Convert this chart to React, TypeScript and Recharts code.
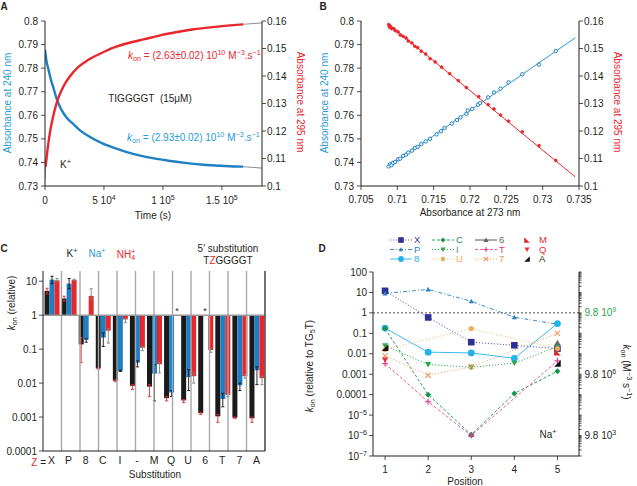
import React from 'react';
import {
  ComposedChart, LineChart, BarChart, Line, Bar, XAxis, YAxis,
  ReferenceLine, Legend,
} from 'recharts';

const FONT = '"Liberation Sans", Arimo, Arial, Helvetica, sans-serif';
const INK = '#231f20';
const BLUE = '#1d80c3';
const BLUE_TXT = '#2a9ad6';
const RED = '#e8262c';
const FIT = '#8c8c8c';
const GREEN_TXT = '#2aa64a';

// ---------------- Panel A ----------------
const A_BLUE_T = [0, 1400, 2800, 4800, 7100, 9900, 14200, 18400, 24100, 29700, 38200, 48200, 58100, 69400, 80700, 93500, 106200, 120400, 134600, 148700, 160000, 168000];
const A_BLUE_V = [0.7878, 0.7826, 0.7798, 0.7755, 0.7717, 0.767, 0.7621, 0.759, 0.7562, 0.7536, 0.7508, 0.7482, 0.7463, 0.7444, 0.7429, 0.7416, 0.7406, 0.7397, 0.739, 0.7386, 0.7383, 0.7382];
const A_RED_T = [500, 1400, 2800, 4250, 6200, 8500, 11300, 15600, 21200, 28300, 36800, 46700, 58100, 70800, 83600, 97700, 111900, 126100, 140200, 154400, 168000];
const A_RED_V = [0.107, 0.1105, 0.1154, 0.1196, 0.1239, 0.1281, 0.132, 0.1362, 0.1399, 0.1433, 0.1459, 0.1481, 0.1503, 0.152, 0.1533, 0.1548, 0.156, 0.157, 0.1577, 0.1583, 0.1588];
const A_BLUE_FIT_T = [168000, 184000];
const A_BLUE_FIT_V = [0.7382, 0.7376];
const A_RED_FIT1_T = [0, 500];
const A_RED_FIT1_V = [0.1025, 0.107];
const A_RED_FIT2_T = [168000, 184000];
const A_RED_FIT2_V = [0.1588, 0.1593];
const A_X_TICKS = [0, 50000, 100000, 150000];
const A_X_LABELS: any[] = ['0', { m: '5 10', e: '4' }, { m: '1 10', e: '5' }, { m: '1.5 10', e: '5' }];
const A_L_TICKS = [0.73, 0.74, 0.75, 0.76, 0.77, 0.78, 0.79, 0.8];
const A_L_LABELS = ['0.73', '0.74', '0.75', '0.76', '0.77', '0.78', '0.79', '0.8'];
const A_R_TICKS = [0.1, 0.11, 0.12, 0.13, 0.14, 0.15, 0.16];
const A_R_LABELS = ['0.1', '0.11', '0.12', '0.13', '0.14', '0.15', '0.16'];

// ---------------- Panel B ----------------
const B_BLUE_X = [0.7088, 0.709, 0.7092, 0.7094, 0.7097, 0.7101, 0.7104, 0.7108, 0.7112, 0.7115, 0.712, 0.7124, 0.7128, 0.7133, 0.7139, 0.7145, 0.7154, 0.716, 0.7165, 0.7175, 0.7182, 0.7187, 0.7195, 0.7197, 0.7203, 0.7211, 0.7214, 0.7225, 0.7233, 0.7242, 0.7253, 0.7272, 0.7295, 0.7318];
const B_BLUE_Y = [0.7383, 0.7392, 0.7388, 0.7398, 0.7402, 0.7413, 0.7416, 0.7428, 0.7433, 0.7442, 0.745, 0.7461, 0.7466, 0.7478, 0.7489, 0.75, 0.7519, 0.7532, 0.7546, 0.7565, 0.758, 0.7591, 0.7606, 0.762, 0.7627, 0.7645, 0.7652, 0.7676, 0.7697, 0.7713, 0.774, 0.7774, 0.7815, 0.7873];
const B_RED_X = [0.7088, 0.7089, 0.709, 0.7092, 0.7095, 0.7097, 0.7101, 0.7104, 0.7108, 0.7112, 0.7115, 0.712, 0.7124, 0.7128, 0.7133, 0.7139, 0.7145, 0.7152, 0.7161, 0.7172, 0.7184, 0.7195, 0.7212, 0.7225, 0.7233, 0.7242, 0.7253, 0.7272, 0.7295, 0.7318];
const B_RED_Y = [0.1587, 0.1578, 0.1582, 0.1572, 0.1573, 0.1565, 0.156, 0.1549, 0.1544, 0.1538, 0.1527, 0.152, 0.1508, 0.1503, 0.149, 0.148, 0.1463, 0.1451, 0.1432, 0.1409, 0.1383, 0.1358, 0.1325, 0.1296, 0.128, 0.1258, 0.1236, 0.1197, 0.1147, 0.1093];
const B_BLUE_FIT_X = [0.709, 0.7345];
const B_BLUE_FIT_Y = [0.7386, 0.7929];
const B_RED_FIT_X = [0.709, 0.7345];
const B_RED_FIT_Y = [0.1585, 0.1033];
const B_X_TICKS = [0.705, 0.71, 0.715, 0.72, 0.725, 0.73, 0.735];
const B_X_LABELS = ['0.705', '0.71', '0.715', '0.72', '0.725', '0.73', '0.735'];

// ---------------- Panel C ----------------
const C_CATS = ['X', 'P', '8', 'C', 'I', '-', 'M', 'Q', 'U', '6', 'T', '7', 'A'];
const C_K = [5.2, 3.1, 0.138, 0.027, 0.0118, 0.0083, 0.0079, 0.0036, 0.0031, 0.0013, 0.00105, 0.00096, 0.00092];
const C_NA: (number | null)[] = [11.1, 8.5, 0.19, 0.22, 0.023, 0.04, 0.019, 0.0053, 0.015, null, 0.0034, 0.0086, 0.024];
const C_NH: (number | null)[] = [10.6, 11, 3.7, 0.35, 0.75, 0.11, 0.036, null, 0.016, 0.094, 0.0045, 0.016, 0.014];
const C_K_LO = [4.2, 2.6, 0.04, 0.026, 0.011, 0.0065, 0.004, 0.003, 0.0027, 0.0012, 0.0007, 0.0009, 0.0007];
const C_K_HI = [6.2, 3.6, 0.22, 0.028, 0.0125, 0.009, 0.009, 0.004, 0.0033, 0.0014, 0.0012, 0.001, 0.001];
const C_NA_LO: (number | null)[] = [8.5, 6, 0.16, 0.12, 0.022, 0.03, 0.003, 0.004, 0.006, null, 0.002, 0.006, 0.009];
const C_NA_HI: (number | null)[] = [14, 12, 0.2, 0.3, 0.024, 0.045, 0.035, 0.006, 0.025, null, 0.005, 0.01, 0.03];
const C_NH_LO: (number | null)[] = [9.5, 10.5, 3, 0.15, 0.6, 0.09, 0.02, null, 0.01, 0.08, 0.004, 0.014, 0.009];
const C_NH_HI: (number | null)[] = [12, 11.5, 6, 0.4, 0.8, 0.12, 0.04, null, 0.02, 0.1, 0.005, 0.018, 0.016];
const C_Y_TICKS = [0.0001, 0.001, 0.01, 0.1, 1, 10];
const C_Y_LABELS = ['0.0001', '0.001', '0.01', '0.1', '1', '10'];

// ---------------- Panel D ----------------
const D_POS = [1, 2, 3, 4, 5];
const D_X = [12, 0.6, 0.037, 0.026, 0.018];
const D_P = [9, 14, 3.7, 0.61, 0.28];
const D_8 = [0.18, 0.012, 0.011, 0.006, 0.3];
const D_C = [0.17, 0.0001, 0.0000011, 0.000115, 0.0014];
const D_I = [0.025, 0.003, 0.0022, 0.0035, 0.022];
const D_U = [0.016, null, 0.17, null, 0.018];
const D_6 = [null, null, 0.0000011, null, 0.035];
const D_T = [0.0033, 0.000045, 0.000001, null, 0.0045];
const D_7 = [0.008, 0.0009, 0.0023, null, 0.1];
const D_M = [null, null, null, null, 0.012];
const D_Q = [0.005, null, null, null, null];
const D_A = [0.02, null, null, null, 0.0034];
const D_Y_TICKS = [0.0000001, 0.000001, 0.00001, 0.0001, 0.001, 0.01, 0.1, 1, 10, 100];
const D_Y_LABELS: any[] = [{ m: '10', e: '−7' }, { m: '10', e: '−6' }, { m: '10', e: '−5' }, '0.0001', '0.001', '0.01', '0.1', '1', '10', '100'];
const D_R_TICKS = [0.000001, 0.001, 1];
const D_R_LABELS: any[] = [{ m: '9.8 10', e: '3' }, { m: '9.8 10', e: '6' }, { m: '9.8 10', e: '9' }];
const D_R_COLORS = [INK, INK, GREEN_TXT];

const D_SERIES = [
  { key: 'sX', name: 'X', vals: D_X, color: '#2e3192', stroke: '#6060b8', dash: '1.2 1.8', shape: 'square', s: 3.3, connect: false, line: true, col: 0, row: 0 },
  { key: 'sP', name: 'P', vals: D_P, color: '#2f7fc4', stroke: '#3d8bcb', dash: '4 2 1 2', shape: 'tri', s: 2.6, connect: false, line: true, col: 0, row: 1 },
  { key: 's8', name: '8', vals: D_8, color: '#22b3ea', stroke: '#3abbeb', dash: undefined, shape: 'circle', s: 3.4, connect: false, line: true, col: 0, row: 2 },
  { key: 'sC', name: 'C', vals: D_C, color: '#17954c', stroke: '#2aa05a', dash: '3 2', shape: 'diamond', s: 3, connect: false, line: true, col: 1, row: 0 },
  { key: 'sI', name: 'I', vals: D_I, color: '#2aa84a', stroke: '#38b055', dash: '1.2 1.8', shape: 'tridown', s: 3, connect: false, line: true, col: 1, row: 1 },
  { key: 'sU', name: 'U', vals: D_U, color: '#f3a955', stroke: '#f6c08a', dash: '1.2 1.8', shape: 'circle', s: 2.6, connect: true, line: true, col: 1, row: 2 },
  { key: 's6', name: '6', vals: D_6, color: '#5a6a62', stroke: '#555', dash: undefined, shape: 'tri', s: 3, connect: false, line: true, col: 2, row: 0 },
  { key: 'sT', name: 'T', vals: D_T, color: '#e8398d', stroke: '#ee5aa0', dash: '3 2', shape: 'plus', s: 3, connect: true, line: true, col: 2, row: 1 },
  { key: 's7', name: '7', vals: D_7, color: '#ef9a5a', stroke: '#f2ad7a', dash: '1.2 1.8', shape: 'cross', s: 2.6, connect: true, line: true, col: 2, row: 2 },
  { key: 'sM', name: 'M', vals: D_M, color: '#d62a2a', stroke: 'none', dash: undefined, shape: 'triM', s: 3.3, connect: false, line: false, col: 3, row: 0 },
  { key: 'sQ', name: 'Q', vals: D_Q, color: '#e8303a', stroke: 'none', dash: undefined, shape: 'tridown', s: 3, connect: false, line: false, col: 3, row: 1 },
  { key: 'sA', name: 'A', vals: D_A, color: '#111', stroke: 'none', dash: undefined, shape: 'triA', s: 3.3, connect: false, line: false, col: 3, row: 2 },
];

// ---------------- minor tick positions (axis decoration) ----------------
const steps = (a: number, b: number, st: number) => {
  const out: number[] = [];
  const n = Math.round((b - a) / st);
  for (let i = 0; i <= n; i++) out.push(+(a + i * st).toFixed(6));
  return out;
};
const logMinors = (decades: number[]) => decades.flatMap((d) => [2, 3, 4, 5, 6, 7, 8, 9].map((m) => +(m * d).toPrecision(3)));
const A_L_MINOR = steps(0.73, 0.8, 0.002);
const A_R_MINOR = steps(0.1, 0.16, 0.002);
const A_X_MINOR = steps(0, 180000, 10000);
const B_X_MINOR = steps(0.705, 0.735, 0.001);
const C_MINOR = [...C_Y_TICKS, ...logMinors([0.0001, 0.001, 0.01, 0.1, 1]).concat([20])];
const D_MINOR = logMinors([0.0000001, 0.000001, 0.00001, 0.0001, 0.001, 0.01, 0.1, 1, 10]);
const D_R_ALL = [...D_Y_TICKS, ...D_MINOR];

// ---------------- builders ----------------
const pairs = (xs: number[], ys: number[], kx: string, ky: string) => xs.map((x, i) => ({ [kx]: x, [ky]: ys[i] }));
const rng = (lo: number | null, hi: number | null) => (lo == null || hi == null ? null : [lo, hi]);

const A_BLUE = pairs(A_BLUE_T, A_BLUE_V, 't', 'v');
const A_RED = pairs(A_RED_T, A_RED_V, 't', 'v');
const A_BLUE_FIT = pairs(A_BLUE_FIT_T, A_BLUE_FIT_V, 't', 'v');
const A_RED_FIT1 = pairs(A_RED_FIT1_T, A_RED_FIT1_V, 't', 'v');
const A_RED_FIT2 = pairs(A_RED_FIT2_T, A_RED_FIT2_V, 't', 'v');
const B_BLUE = pairs(B_BLUE_X, B_BLUE_Y, 'x', 'y');
const B_RED = pairs(B_RED_X, B_RED_Y, 'x', 'y');
const B_BLUE_FIT = pairs(B_BLUE_FIT_X, B_BLUE_FIT_Y, 'x', 'y');
const B_RED_FIT = pairs(B_RED_FIT_X, B_RED_FIT_Y, 'x', 'y');

const C_ROWS = C_CATS.map((z, i) => ({
  z,
  k: [1, C_K[i]],
  kE: rng(C_K_LO[i], C_K_HI[i]),
  na: C_NA[i] == null ? null : [1, C_NA[i]],
  naE: rng(C_NA_LO[i], C_NA_HI[i]),
  nh: C_NH[i] == null ? null : [1, C_NH[i]],
  nhE: rng(C_NH_LO[i], C_NH_HI[i]),
}));

const D_ROWS = D_POS.map((p, i) => {
  const r: any = { p };
  D_SERIES.forEach((s) => { r[s.key] = s.vals[i]; });
  return r;
});

// ---------------- helpers ----------------
const AX = { stroke: INK, strokeWidth: 1 };
const TL = { stroke: INK, strokeWidth: 0.8 };

function makeTick(values: number[], labels: any[], o: { dx?: number; dy?: number; anchor?: string; colors?: string[]; size?: number }) {
  return function TickRenderer(props: any) {
    const { x, y, payload } = props;
    const val = payload ? payload.value : NaN;
    const i = values.findIndex((v) => Math.abs(v - val) <= Math.abs(v) * 1e-6 + 1e-13);
    if (i < 0) return <g />;
    const lab = labels[i];
    const fill = o.colors ? o.colors[i] : INK;
    return (
      <text x={x + (o.dx ?? 0)} y={y + (o.dy ?? 0)} textAnchor={(o.anchor ?? 'middle') as any} fontSize={o.size ?? 10} fill={fill} fontFamily={FONT}>
        {typeof lab === 'string' ? lab : (
          <>
            <tspan>{lab.m}</tspan>
            <tspan dy={-4} fontSize={7}>{lab.e}</tspan>
          </>
        )}
      </text>
    );
  };
}

function makeCatTick() {
  return function CatTick(props: any) {
    const { x, y, payload } = props;
    return (
      <text x={x} y={y + 11} textAnchor="middle" fontSize={10.5} fill={INK} fontFamily={FONT}>{payload ? payload.value : ''}</text>
    );
  };
}

function errShape(color: string) {
  return function ErrShape(props: any) {
    const { x, y, width, height } = props;
    if (![x, y, width, height].every((n) => Number.isFinite(n)) || height === 0) return <g />;
    const cx = x + width / 2;
    const y1 = y;
    const y2 = y + height;
    return (
      <g stroke={color} strokeWidth={0.9}>
        <line x1={cx} y1={y1} x2={cx} y2={y2} />
        <line x1={cx - 1.6} y1={y1} x2={cx + 1.6} y2={y1} />
        <line x1={cx - 1.6} y1={y2} x2={cx + 1.6} y2={y2} />
      </g>
    );
  };
}

function Marker({ cx, cy, shape, color, s }: any) {
  if (cx == null || cy == null || isNaN(cx) || isNaN(cy)) return <g />;
  switch (shape) {
    case 'square':
      return <rect x={cx - s} y={cy - s} width={2 * s} height={2 * s} fill={color} />;
    case 'tri':
      return <polygon points={`${cx},${cy - s} ${cx - s},${cy + s * 0.8} ${cx + s},${cy + s * 0.8}`} fill={color} />;
    case 'tridown':
      return <polygon points={`${cx},${cy + s} ${cx - s},${cy - s * 0.8} ${cx + s},${cy - s * 0.8}`} fill={color} />;
    case 'circle':
      return <circle cx={cx} cy={cy} r={s} fill={color} />;
    case 'diamond':
      return <polygon points={`${cx},${cy - s} ${cx + s},${cy} ${cx},${cy + s} ${cx - s},${cy}`} fill={color} />;
    case 'plus':
      return (
        <g stroke={color} strokeWidth={1.1}>
          <line x1={cx - s} y1={cy} x2={cx + s} y2={cy} />
          <line x1={cx} y1={cy - s} x2={cx} y2={cy + s} />
        </g>
      );
    case 'cross':
      return (
        <g stroke={color} strokeWidth={1.1}>
          <line x1={cx - s} y1={cy - s} x2={cx + s} y2={cy + s} />
          <line x1={cx - s} y1={cy + s} x2={cx + s} y2={cy - s} />
        </g>
      );
    case 'triM':
      return <polygon points={`${cx - s},${cy - s} ${cx - s},${cy + s} ${cx + s},${cy + s}`} fill={color} />;
    case 'triA':
      return <polygon points={`${cx + s},${cy - s} ${cx + s},${cy + s} ${cx - s},${cy + s}`} fill={color} />;
    default:
      return <g />;
  }
}

const Sup = ({ children }: any) => <span style={{ fontSize: '0.72em', position: 'relative', top: '-0.5em' }}>{children}</span>;
const Sub = ({ children }: any) => <span style={{ fontSize: '0.72em', position: 'relative', top: '0.3em' }}>{children}</span>;
const Kon = () => (<><i>k</i><Sub>on</Sub></>);

function Note({ x, y, children, color = INK, size = 10, rot = 0, anchor = 'middle', bold = false }: any) {
  const tx = anchor === 'start' ? '0%' : anchor === 'end' ? '-100%' : '-50%';
  return (
    <div style={{
      position: 'absolute', left: x, top: y, transform: `translate(${tx}, -50%) rotate(${rot}deg)`,
      color, fontSize: size, fontWeight: bold ? 'bold' : 'normal', whiteSpace: 'nowrap', lineHeight: 1, fontFamily: FONT,
    }}>{children}</div>
  );
}

// ---------------- panels ----------------
function PanelA() {
  return (
    <ComposedChart width={318} height={240} margin={{ top: 21, right: 16, bottom: 24, left: 5 }}>
      <XAxis type="number" dataKey="t" domain={[0, 184000]} allowDataOverflow ticks={A_X_TICKS} interval={0} height={30}
        axisLine={AX} tickLine={TL} tickSize={4} tick={makeTick(A_X_TICKS, A_X_LABELS, { dy: 12 })} />
      <XAxis xAxisId="top" orientation="top" type="number" domain={[0, 184000]} allowDataOverflow height={0} tick={false} tickLine={false} axisLine={AX} />
      <XAxis xAxisId="mx" mirror type="number" domain={[0, 184000]} allowDataOverflow ticks={A_X_MINOR} interval={0} tick={false} tickLine={TL} tickSize={2} axisLine={false} />
      <YAxis yAxisId="l" type="number" domain={[0.73, 0.8]} allowDataOverflow ticks={A_L_TICKS} interval={0} width={40}
        axisLine={AX} tickLine={TL} tickSize={4} tick={makeTick(A_L_TICKS, A_L_LABELS, { dx: -1, dy: 3.5, anchor: 'end' })} />
      <YAxis yAxisId="ml" mirror type="number" domain={[0.73, 0.8]} allowDataOverflow ticks={A_L_MINOR} interval={0} tick={false} tickLine={TL} tickSize={2} axisLine={false} />
      <YAxis yAxisId="r" orientation="right" type="number" domain={[0.1, 0.16]} allowDataOverflow ticks={A_R_TICKS} interval={0} width={40}
        axisLine={AX} tickLine={TL} tickSize={4} tick={makeTick(A_R_TICKS, A_R_LABELS, { dx: -1, dy: 3.5, anchor: 'start' })} />
      <YAxis yAxisId="mr" orientation="right" mirror type="number" domain={[0.1, 0.16]} allowDataOverflow ticks={A_R_MINOR} interval={0} tick={false} tickLine={TL} tickSize={2} axisLine={false} />
      <Line data={A_BLUE_FIT} yAxisId="l" dataKey="v" type="linear" stroke={FIT} strokeWidth={1} dot={false} activeDot={false} isAnimationActive={false} />
      <Line data={A_RED_FIT1} yAxisId="r" dataKey="v" type="linear" stroke={FIT} strokeWidth={1} dot={false} activeDot={false} isAnimationActive={false} />
      <Line data={A_RED_FIT2} yAxisId="r" dataKey="v" type="linear" stroke={FIT} strokeWidth={1} dot={false} activeDot={false} isAnimationActive={false} />
      <Line data={A_BLUE} yAxisId="l" dataKey="v" type="monotone" stroke={BLUE} strokeWidth={2.4} dot={false} activeDot={false} isAnimationActive={false} />
      <Line data={A_RED} yAxisId="r" dataKey="v" type="monotone" stroke={RED} strokeWidth={2.4} dot={false} activeDot={false} isAnimationActive={false} />
    </ComposedChart>
  );
}

function PanelB() {
  return (
    <ComposedChart width={319} height={240} margin={{ top: 21, right: 18, bottom: 24, left: 3 }}>
      <XAxis type="number" dataKey="x" domain={[0.705, 0.735]} allowDataOverflow ticks={B_X_TICKS} interval={0} height={30}
        axisLine={AX} tickLine={TL} tickSize={4} tick={makeTick(B_X_TICKS, B_X_LABELS, { dy: 11 })} />
      <XAxis xAxisId="top" orientation="top" type="number" domain={[0.705, 0.735]} allowDataOverflow height={0} tick={false} tickLine={false} axisLine={AX} />
      <XAxis xAxisId="mx" mirror type="number" domain={[0.705, 0.735]} allowDataOverflow ticks={B_X_MINOR} interval={0} tick={false} tickLine={TL} tickSize={2} axisLine={false} />
      <YAxis yAxisId="l" type="number" domain={[0.73, 0.8]} allowDataOverflow ticks={A_L_TICKS} interval={0} width={40}
        axisLine={AX} tickLine={TL} tickSize={4} tick={makeTick(A_L_TICKS, A_L_LABELS, { dx: -1, dy: 3.5, anchor: 'end' })} />
      <YAxis yAxisId="ml" mirror type="number" domain={[0.73, 0.8]} allowDataOverflow ticks={A_L_MINOR} interval={0} tick={false} tickLine={TL} tickSize={2} axisLine={false} />
      <YAxis yAxisId="r" orientation="right" type="number" domain={[0.1, 0.16]} allowDataOverflow ticks={A_R_TICKS} interval={0} width={40}
        axisLine={AX} tickLine={TL} tickSize={4} tick={makeTick(A_R_TICKS, A_R_LABELS, { dx: -1, dy: 3.5, anchor: 'start' })} />
      <YAxis yAxisId="mr" orientation="right" mirror type="number" domain={[0.1, 0.16]} allowDataOverflow ticks={A_R_MINOR} interval={0} tick={false} tickLine={TL} tickSize={2} axisLine={false} />
      <Line data={B_BLUE_FIT} yAxisId="l" dataKey="y" type="linear" stroke={BLUE_TXT} strokeWidth={1} dot={false} activeDot={false} isAnimationActive={false} />
      <Line data={B_RED_FIT} yAxisId="r" dataKey="y" type="linear" stroke={RED} strokeWidth={1} dot={false} activeDot={false} isAnimationActive={false} />
      <Line data={B_BLUE} yAxisId="l" dataKey="y" stroke="none" dot={{ r: 1.7, stroke: BLUE, strokeWidth: 1, fill: '#fff' }} activeDot={false} isAnimationActive={false} />
      <Line data={B_RED} yAxisId="r" dataKey="y" stroke="none" dot={{ r: 1.4, stroke: RED, strokeWidth: 0.8, fill: RED }} activeDot={false} isAnimationActive={false} />
    </ComposedChart>
  );
}

function PanelC() {
  return (
    <BarChart width={318} height={246} data={C_ROWS} margin={{ top: 31, right: 43, bottom: 15, left: 3 }} barCategoryGap="9%" barGap={0}>
      <XAxis dataKey="z" height={20} axisLine={AX} tickLine={false} tickSize={0} interval={0} tick={makeCatTick()} />
      <XAxis xAxisId="err" dataKey="z" hide />
      <XAxis xAxisId="sep" orientation="top" type="number" domain={[0, 13]} allowDataOverflow height={0} tick={false} tickLine={false} axisLine={AX} />
      <YAxis scale="log" type="number" domain={[0.0001, 20]} allowDataOverflow ticks={C_Y_TICKS} interval={0} width={40}
        axisLine={AX} tickLine={TL} tickSize={4} tick={makeTick(C_Y_TICKS, C_Y_LABELS, { dx: 0, dy: 3.5, anchor: 'end' })} />
      <YAxis yAxisId="r" orientation="right" scale="log" type="number" domain={[0.0001, 20]} allowDataOverflow ticks={C_MINOR} interval={0} width={10}
        axisLine={AX} tickLine={TL} tickSize={2.5} tick={false} />
      {C_CATS.slice(1).map((_, i) => (
        <ReferenceLine key={`sep${i}`} xAxisId="sep" x={i + 1} stroke="#a8a8a8" strokeWidth={1.4} />
      ))}
      <ReferenceLine y={1} stroke="#9a9a9a" strokeWidth={1.4} />
      <Bar dataKey="k" fill="#1a1a1a" isAnimationActive={false} />
      <Bar dataKey="na" fill="#1c80c6" isAnimationActive={false} />
      <Bar dataKey="nh" fill={RED} isAnimationActive={false} />
      <Bar xAxisId="err" dataKey="kE" shape={errShape(RED)} isAnimationActive={false} />
      <Bar xAxisId="err" dataKey="naE" shape={errShape('#111')} isAnimationActive={false} />
      <Bar xAxisId="err" dataKey="nhE" shape={errShape('#808080')} isAnimationActive={false} />
    </BarChart>
  );
}

function DLegend() {
  const colX = [12, 54, 97, 149];
  const rowY = [7, 16.5, 26];
  return (
    <svg width={200} height={32} style={{ overflow: 'visible', display: 'block' }}>
      {D_SERIES.map((s) => {
        const x0 = colX[s.col];
        const y = rowY[s.row];
        if (!s.line) {
          return (
            <g key={s.key}>
              <Marker cx={x0} cy={y} shape={s.shape} color={s.color} s={s.s * 0.85} />
              <text x={x0 + 12} y={y + 3.3} fontSize={9.5} fill={s.color === '#111' ? INK : s.color} fontFamily={FONT}>{s.name}</text>
            </g>
          );
        }
        return (
          <g key={s.key}>
            <line x1={x0} y1={y} x2={x0 + 22} y2={y} stroke={s.stroke} strokeWidth={1} strokeDasharray={s.dash} />
            <Marker cx={x0 + 11} cy={y} shape={s.shape} color={s.color} s={s.s * 0.85} />
            <text x={x0 + 24} y={y + 3.3} fontSize={9.5} fill={s.color} fontFamily={FONT}>{s.name}</text>
          </g>
        );
      })}
    </svg>
  );
}

function PanelD() {
  return (
    <LineChart width={319} height={261} data={D_ROWS} margin={{ top: 47, right: 8, bottom: 6, left: 5 }}>
      <XAxis type="number" dataKey="p" domain={[0.72, 5.5]} allowDataOverflow ticks={D_POS} interval={0} height={24}
        axisLine={AX} tickLine={TL} tickSize={4} tick={makeTick(D_POS, ['1', '2', '3', '4', '5'], { dy: 11 })} />
      <XAxis xAxisId="top" orientation="top" type="number" domain={[0.72, 5.5]} allowDataOverflow height={0} tick={false} tickLine={false} axisLine={AX} />
      <YAxis scale="log" type="number" domain={[0.0000001, 100]} allowDataOverflow ticks={D_Y_TICKS} interval={0} width={50}
        axisLine={AX} tickLine={TL} tickSize={4} tick={makeTick(D_Y_TICKS, D_Y_LABELS, { dx: 0, dy: 3.5, anchor: 'end' })} />
      <YAxis yAxisId="ml" mirror scale="log" type="number" domain={[0.0000001, 100]} allowDataOverflow ticks={D_MINOR} interval={0} tick={false} tickLine={TL} tickSize={2} axisLine={false} />
      <YAxis yAxisId="r" orientation="right" scale="log" type="number" domain={[0.0000001, 100]} allowDataOverflow ticks={D_R_ALL} interval={0} width={50}
        axisLine={AX} tickLine={TL} tickSize={2.5} tick={makeTick(D_R_TICKS, D_R_LABELS, { dx: 1, dy: 3.5, anchor: 'start', colors: D_R_COLORS })} />
      <ReferenceLine y={1} stroke="#333" strokeWidth={0.9} strokeDasharray="2 2" />
      <Legend layout="horizontal" verticalAlign="middle" align="center" content={() => <DLegend />}
        wrapperStyle={{ top: 8, left: 60, width: 200, height: 32 }} />
      {D_SERIES.map((s) => (
        <Line key={s.key} dataKey={s.key} name={s.name} type="linear" stroke={s.stroke} strokeWidth={1}
          strokeDasharray={s.dash} connectNulls={s.connect} activeDot={false} isAnimationActive={false}
          dot={(p: any) => <Marker key={`${s.key}-${p.index}`} cx={p.cx} cy={p.cy} shape={s.shape} color={s.color} s={s.s} />} />
      ))}
    </LineChart>
  );
}

export default function App() {
  return (
    <div style={{ position: 'absolute', left: 0, top: 0, width: 637, height: 486, background: '#fff', fontFamily: FONT, overflow: 'hidden' }}>
      <div style={{ position: 'absolute', left: 0, top: 0 }}><PanelA /></div>
      <div style={{ position: 'absolute', left: 318, top: 0 }}><PanelB /></div>
      <div style={{ position: 'absolute', left: 0, top: 240 }}><PanelC /></div>
      <div style={{ position: 'absolute', left: 318, top: 225 }}><PanelD /></div>

      {/* Panel A notes */}
      <Note x={4} y={7} bold size={10}>A</Note>
      <Note x={8} y={103} rot={-90} color={BLUE_TXT}>Absorbance at 240 nm</Note>
      <Note x={300} y={102} rot={90} color={RED}>Absorbance at 295 nm</Note>
      <Note x={153} y={216}>Time (s)</Note>
      <Note x={128} y={56} anchor="start" color={RED}><Kon /> = (2.63±0.02) 10<Sup>10</Sup> M<Sup>−3</Sup>.s<Sup>−1</Sup></Note>
      <Note x={150} y={99}>TIGGGGT&nbsp; (15μM)</Note>
      <Note x={127} y={138} anchor="start" color={BLUE_TXT}><Kon /> = (2.93±0.02) 10<Sup>10</Sup> M<Sup>−3</Sup>.s<Sup>−1</Sup></Note>
      <Note x={60} y={165} anchor="start">K<Sup>+</Sup></Note>

      {/* Panel B notes */}
      <Note x={323} y={7} bold size={10}>B</Note>
      <Note x={325} y={103} rot={-90} color={BLUE_TXT}>Absorbance at 240 nm</Note>
      <Note x={617} y={102} rot={90} color={RED}>Absorbance at 295 nm</Note>
      <Note x={470} y={213}>Absorbance at 273 nm</Note>

      {/* Panel C notes */}
      <Note x={4} y={249} bold size={10}>C</Note>
      <Note x={12} y={303} rot={-90}><Kon /> (relative)</Note>
      <Note x={72} y={254}>K<Sup>+</Sup></Note>
      <Note x={97} y={254} color={BLUE_TXT}>Na<Sup>+</Sup></Note>
      <Note x={126} y={255} color={RED}>NH<span style={{ fontSize: '0.7em', position: 'relative', top: '0.35em' }}>4</span><span style={{ fontSize: '0.7em', position: 'relative', top: '-0.55em', marginLeft: -4 }}>+</span></Note>
      <Note x={228} y={249}>5′ substitution</Note>
      <Note x={228} y={261}>T<span style={{ color: RED }}>Z</span>GGGGT</Note>
      <Note x={46} y={463} anchor="end"><span style={{ color: RED }}>Z</span> =</Note>
      <Note x={155} y={475}>Substitution</Note>
      <Note x={177} y={311} size={9}>*</Note>
      <Note x={205} y={311} size={9}>*</Note>

      {/* Panel D notes */}
      <Note x={322} y={249} bold size={10}>D</Note>
      <Note x={310} y={366} rot={-90}><Kon /> (relative to TG<Sub>5</Sub>T)</Note>
      <Note x={626} y={372} rot={90}><Kon /> (M<Sup>−3</Sup> s<Sup>−1</Sup>)</Note>
      <Note x={548} y={435}>Na<Sup>+</Sup></Note>
      <Note x={465} y={482}>Position</Note>
    </div>
  );
}
